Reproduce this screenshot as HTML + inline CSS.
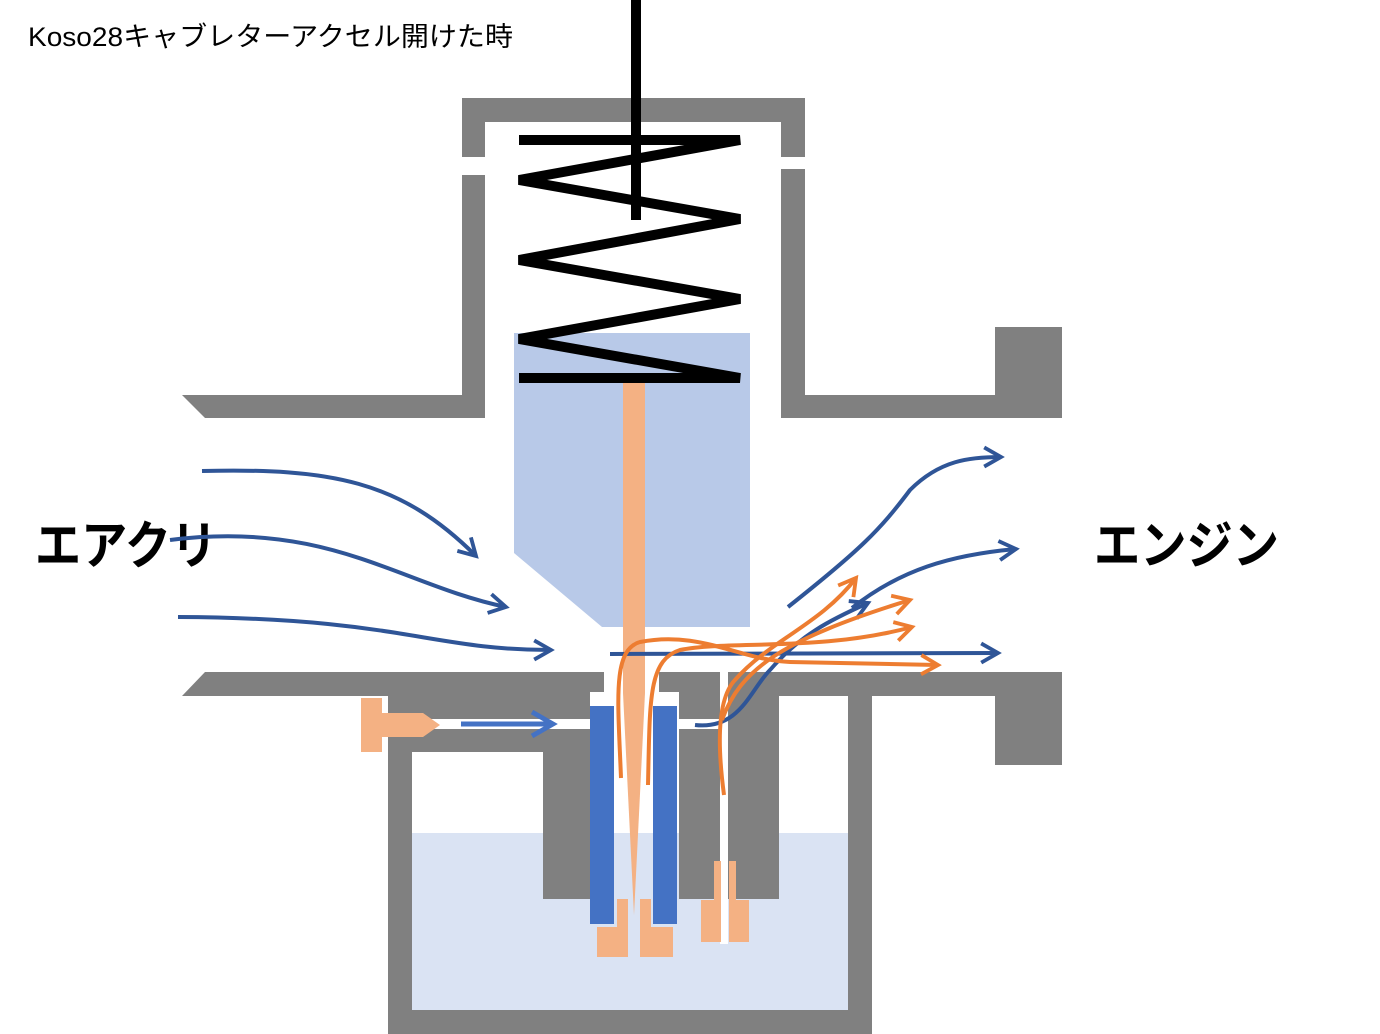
<!DOCTYPE html>
<html><head><meta charset="utf-8"><style>html,body{margin:0;padding:0;background:#fff}svg{display:block}</style></head>
<body>
<svg width="1380" height="1034" viewBox="0 0 1380 1034" xmlns="http://www.w3.org/2000/svg">
<defs>
<marker id="ab" viewBox="0 0 10 10" refX="8" refY="5" markerWidth="6" markerHeight="6" orient="auto" markerUnits="strokeWidth"><path d="M1,1 L8,5 L1,9" fill="none" stroke="#2f5597" stroke-width="1.6"/></marker>
<marker id="ab2" viewBox="0 0 10 10" refX="8" refY="5" markerWidth="6" markerHeight="6" orient="auto" markerUnits="strokeWidth"><path d="M1,1 L8,5 L1,9" fill="none" stroke="#4472c4" stroke-width="1.6"/></marker>
<marker id="ao" viewBox="0 0 10 10" refX="8" refY="5" markerWidth="6" markerHeight="6" orient="auto" markerUnits="strokeWidth"><path d="M1,1 L8,5 L1,9" fill="none" stroke="#ed7d31" stroke-width="1.6"/></marker>
</defs>
<text x="28" y="46" font-family="Liberation Sans, Noto Sans CJK JP, sans-serif" font-size="27" textLength="485" lengthAdjust="spacingAndGlyphs" fill="#000">Koso28キャブレターアクセル開けた時</text>
<text x="35" y="564" font-family="Liberation Sans, Noto Sans CJK JP, sans-serif" font-size="52" font-weight="bold" textLength="182" lengthAdjust="spacingAndGlyphs">エアクリ</text>
<text x="1094" y="564" font-family="Liberation Sans, Noto Sans CJK JP, sans-serif" font-size="52" font-weight="bold" textLength="185" lengthAdjust="spacingAndGlyphs">エンジン</text>

<!-- fuel -->
<rect x="412" y="833" width="436" height="177" fill="#dae3f3"/>
<!-- upper body -->
<g fill="#808080">
<rect x="462" y="98" width="343" height="24"/>
<rect x="462" y="98" width="23" height="59"/>
<rect x="462" y="175" width="23" height="243"/>
<rect x="781" y="98" width="24" height="59"/>
<rect x="781" y="169" width="24" height="249"/>
<polygon points="182,395 485,395 485,418 205,418"/>
<rect x="781" y="395" width="281" height="23"/>
<rect x="995" y="327" width="67" height="91"/>
<!-- lower bar -->
<polygon points="205,672 604,672 604,696 182,696"/>
<rect x="659" y="672" width="403" height="24"/>
<rect x="995" y="672" width="67" height="93"/>
<!-- bowl -->
<rect x="388" y="696" width="24" height="338"/>
<rect x="848" y="696" width="24" height="338"/>
<rect x="388" y="1010" width="484" height="24"/>
<rect x="412" y="696" width="178" height="23"/>
<rect x="412" y="729" width="178" height="23"/>
<rect x="543" y="729" width="47" height="170"/>
<rect x="679" y="696" width="100" height="203"/>
</g>
<!-- passages -->
<rect x="679" y="719" width="45" height="10" fill="#fff"/>
<rect x="590" y="692" width="89" height="14" fill="#fff"/>
<rect x="720" y="672" width="8" height="272" fill="#fff"/>
<!-- jet tubes -->
<rect x="590" y="706" width="24" height="218" fill="#4472c4"/>
<rect x="653" y="706" width="24" height="218" fill="#4472c4"/>
<g fill="#f4b183">
<rect x="617" y="899" width="11" height="30"/>
<rect x="640" y="899" width="11" height="30"/>
<rect x="597" y="927" width="31" height="30"/>
<rect x="640" y="927" width="33" height="30"/>
<rect x="714" y="861" width="7" height="40"/>
<rect x="729" y="861" width="7" height="40"/>
<rect x="701" y="900" width="20" height="42"/>
<rect x="729" y="900" width="20" height="42"/>
<!-- left screw -->
<rect x="361" y="698" width="21" height="54"/>
<polygon points="382,713 423,713 440,725 423,737 382,737"/>
</g>
<!-- piston -->
<polygon points="514,333 750,333 750,627 602,627 514,553" fill="#b8c9e8"/>
<polygon points="623,382 645,382 645,693 634,915 623,693" fill="#f4b183"/>
<!-- spring -->
<g stroke="#000" stroke-width="10" fill="none">
<polyline points="519,140 740,140 519,180 740,219 519,260 740,299 519,339 740,378 519,378" stroke-linejoin="miter"/>
<line x1="636" y1="0" x2="636" y2="220"/>
</g>
<!-- blue flows -->
<g stroke="#2f5597" stroke-width="4" fill="none" marker-end="url(#ab)">
<path d="M202,471 C330,468 400,480 476,556"/>
<path d="M170,540 C330,520 400,585 506,607"/>
<path d="M178,617 C400,618 430,650 551,650"/>
<path d="M788,607 C860,550 880,530 910,490 C940,460 970,457 1001,457"/>
<path d="M852,608 C900,570 950,555 1016,549"/>
<path d="M610,654 L998,653"/>
<path d="M695,725 C740,730 750,690 770,670 C800,635 830,620 868,603"/>
</g>
<line x1="461" y1="724" x2="553" y2="724" stroke="#4472c4" stroke-width="5" marker-end="url(#ab2)"/>
<!-- orange flows -->
<g stroke="#ed7d31" stroke-width="4" fill="none" marker-end="url(#ao)">
<path d="M621,778 C618,700 612,650 640,642 C700,630 740,660 790,662 L938,665"/>
<path d="M648,785 C650,700 648,660 680,650 C730,640 820,652 912,627"/>
<path d="M724,795 C718,750 716,700 735,680 C770,640 820,625 856,578"/>
<path d="M722,720 C740,670 780,640 910,600"/>
</g>
</svg>
</body></html>
